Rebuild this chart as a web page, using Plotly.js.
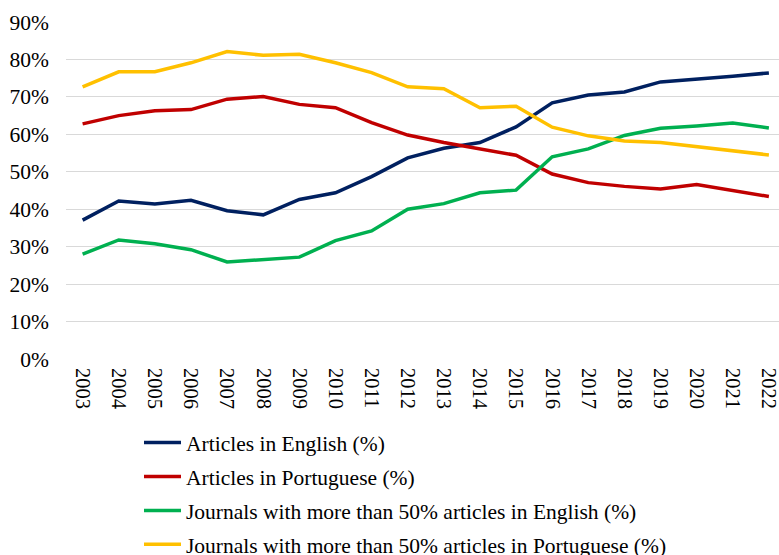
<!DOCTYPE html>
<html>
<head>
<meta charset="utf-8">
<script src="https://cdn.plot.ly/plotly-3.0.1.min.js"></script>
<style>html,body{margin:0;padding:0;background:#fff;}#chart{width:779px;height:555px;}</style>
</head>
<body>
<div id="chart"></div>
<script>
const years = ["2003","2004","2005","2006","2007","2008","2009","2010","2011","2012","2013","2014","2015","2016","2017","2018","2019","2020","2021","2022"];
const articlesEnglish = [37.1,42.2,41.4,42.4,39.6,38.5,42.6,44.4,48.7,53.7,56.3,57.8,62.0,68.4,70.5,71.3,74.0,74.7,75.5,76.4];
const articlesPortuguese = [62.8,65.0,66.3,66.6,69.4,70.1,68.0,67.1,63.1,59.8,57.8,56.1,54.4,49.4,47.1,46.1,45.4,46.6,45.0,43.4];
const journalsEnglish = [28.0,31.8,30.8,29.2,25.9,26.6,27.2,31.6,34.2,40.0,41.5,44.4,45.1,54.0,56.1,59.7,61.6,62.2,63.0,61.7];
const journalsPortuguese = [72.7,76.7,76.7,79.1,82.1,81.1,81.4,79.1,76.5,72.7,72.2,67.1,67.5,61.9,59.6,58.2,57.8,56.7,55.6,54.5];
const seriesNames = ["Articles in English (%)","Articles in Portuguese (%)","Journals with more than 50% articles in English (%)","Journals with more than 50% articles in Portuguese (%)"];
const seriesColors = ["#002060","#C00000","#00B050","#FFC000"];
const yTicks = [0,10,20,30,40,50,60,70,80,90];

const seriesValues = [articlesEnglish, articlesPortuguese, journalsEnglish, journalsPortuguese];
const data = seriesValues.map((vals, i) => ({
  type: "scatter",
  mode: "lines",
  x: years,
  y: vals,
  name: seriesNames[i],
  legendgroup: "g" + i,
  line: {color: seriesColors[i], width: 3.5}
}));

const fam = "Liberation Serif, Times New Roman, serif";
const layout = {
  width: 779, height: 555,
  margin: {l: 66, r: 0, t: 22, b: 196, autoexpand: false},
  paper_bgcolor: "#fff", plot_bgcolor: "#fff",
  font: {family: fam, size: 21.5, color: "#000"},
  showlegend: true,
  xaxis: {
    type: "category",
    range: [-0.46, 19.28],
    tickangle: 90,
    showgrid: false,
    zeroline: false,
    showline: false,
    ticks: "",
    ticklabelstandoff: 8,
    tickfont: {family: fam, size: 20.5, color: "#000"}
  },
  yaxis: {
    range: [0, 90],
    tickvals: yTicks,
    ticktext: yTicks.map(v => v + "%"),
    showgrid: true,
    gridcolor: "#d9d9d9",
    gridwidth: 1,
    zeroline: false,
    showline: false,
    ticks: "",
    ticklabelstandoff: 16,
    tickfont: {family: fam, size: 21.5, color: "#000"}
  },
  legend: {
    xref: "container", yref: "container",
    x: 139/779, y: 1 - 422/555,
    xanchor: "left", yanchor: "top",
    orientation: "v",
    tracegroupgap: 3,
    itemwidth: 37,
    font: {family: fam, size: 21.5, color: "#000"},
    bgcolor: "rgba(0,0,0,0)",
    borderwidth: 0
  }
};

Plotly.newPlot("chart", data, layout, {staticPlot: true, displayModeBar: false});
</script>
</body>
</html>
